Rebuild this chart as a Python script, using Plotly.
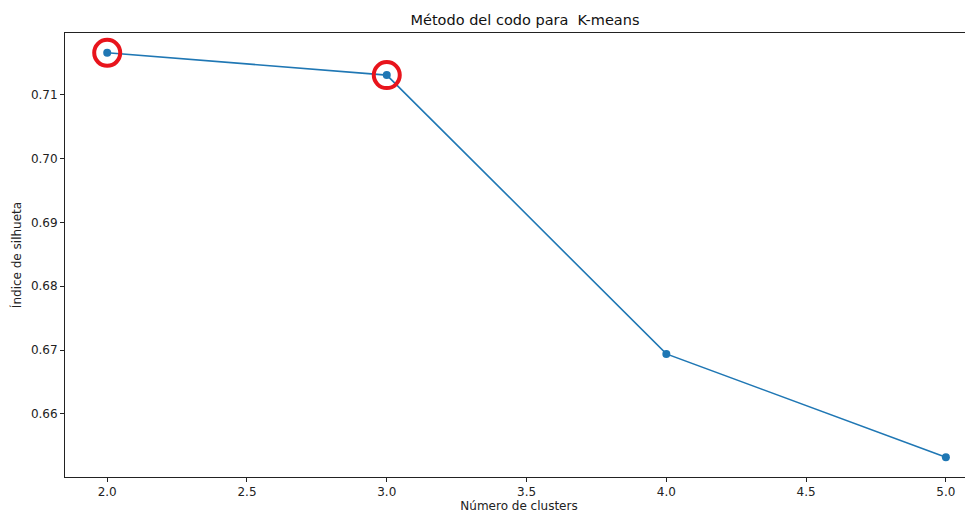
import plotly.graph_objects as go

clusters = [2, 3, 4, 5]
silhueta = [0.7166, 0.7131, 0.6694, 0.6532]

# puntos resaltados a mano en la imagen original
resaltados_x = [2, 3]
resaltados_y = [0.7166, 0.7131]

x_ticks = [2.0, 2.5, 3.0, 3.5, 4.0, 4.5, 5.0]
y_ticks = [0.66, 0.67, 0.68, 0.69, 0.70, 0.71]

fig = go.Figure()

fig.add_trace(
    go.Scatter(
        x=clusters,
        y=silhueta,
        mode="lines+markers",
        line=dict(color="#1f77b4", width=1.6),
        marker=dict(size=8, color="#1f77b4"),
    )
)

fig.add_trace(
    go.Scatter(
        x=resaltados_x,
        y=resaltados_y,
        mode="markers",
        marker=dict(
            symbol="circle-open",
            size=26,
            color="#e8141c",
            line=dict(color="#e8141c", width=4),
        ),
    )
)

axis_font = dict(family="DejaVu Sans", size=12, color="#222")

# la página añade 8px de margen, así que la figura es 8px más pequeña
fig.update_layout(
    width=965,
    height=505,
    margin=dict(l=57, r=0, t=25, b=36),
    paper_bgcolor="white",
    plot_bgcolor="white",
    showlegend=False,
    font=dict(family="DejaVu Sans", color="#222"),
    title=dict(
        text="Método del codo para  K-means",
        x=0.5066,
        xanchor="center",
        xref="paper",
        y=1 - 12 / 505,
        yanchor="middle",
        font=dict(family="DejaVu Sans", size=14.5, color="#111"),
    ),
    xaxis=dict(
        range=[1.849, 5.097],
        tickvals=x_ticks,
        ticktext=[f"{t:.1f}" for t in x_ticks],
        ticks="outside",
        ticklen=4,
        tickcolor="#222",
        showgrid=False,
        zeroline=False,
        showline=True,
        linecolor="#222",
        linewidth=1,
        mirror=True,
        tickfont=axis_font,
        title=dict(text="Número de clusters", font=axis_font, standoff=2),
    ),
    yaxis=dict(
        range=[0.6501, 0.7197],
        tickvals=y_ticks,
        ticktext=[f"{t:.2f}" for t in y_ticks],
        ticks="outside",
        ticklen=4,
        tickcolor="#222",
        showgrid=False,
        zeroline=False,
        showline=True,
        linecolor="#222",
        linewidth=1,
        tickfont=axis_font,
        title=dict(text="Índice de silhueta", font=axis_font, standoff=6),
    ),
)

fig.write_html("out.html")
